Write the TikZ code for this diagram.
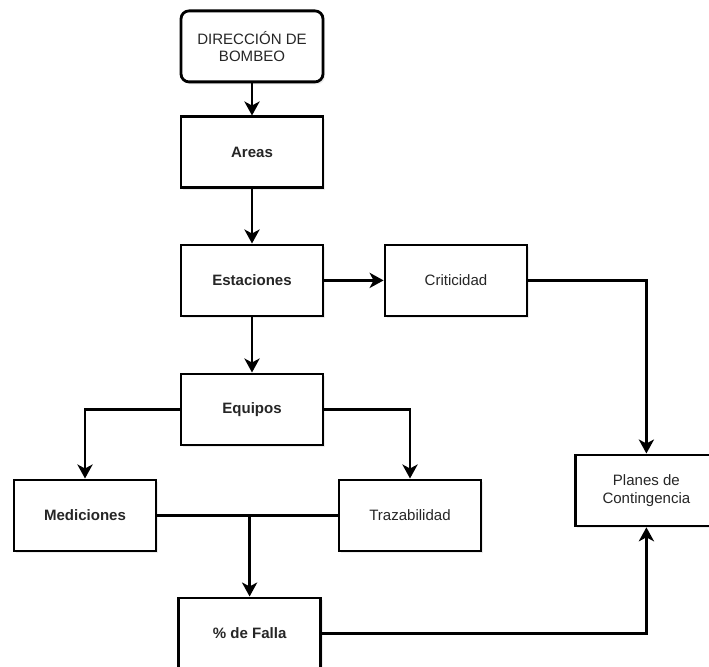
\documentclass[tikz,border=0pt]{standalone}
\usepackage{fontspec}
\setmainfont{Liberation Sans}
\usetikzlibrary{arrows.meta,shadows}

\begin{document}
\begin{tikzpicture}[
    every node/.style={align=center},
    head/.style={rectangle, rounded corners=0.2cm, draw=black, fill=white, line width=2pt, minimum width=3.55cm, minimum height=1.775cm, text=black!85, font=\fontsize{10.7}{12.5}\selectfont, drop shadow={opacity=0.15, shadow xshift=0.05cm, shadow yshift=-0.06cm}},
    unit/.style={rectangle, draw=black, fill=white, line width=2pt, minimum width=3.55cm, minimum height=1.775cm, text=black!85, font=\fontsize{10.7}{12.5}\selectfont\bfseries, drop shadow={opacity=0.15, shadow xshift=0.05cm, shadow yshift=-0.06cm}},
    side/.style={rectangle, draw=black, fill=white, line width=2pt, minimum width=3.55cm, minimum height=1.775cm, text=black!85, font=\fontsize{10.7}{12.5}\selectfont, drop shadow={opacity=0.15, shadow xshift=0.05cm, shadow yshift=-0.06cm}},
    link/.style={-{Stealth[length=0.35cm, width=0.38cm, inset=0.1cm]}, line width=2pt},
    line/.style={line width=2pt}
]
    \useasboundingbox (0,0) rectangle (17.725,-16.65);

    % Top node
    \node[head] (direccion) at (6.3,-1.16) {DIRECCIÓN DE\\BOMBEO};

    % Main column
    \node[unit] (areas) at ([yshift=-2.65cm]direccion) {Areas};
    \node[unit] (estaciones) at ([yshift=-3.2cm]areas) {Estaciones};
    \node[side] (criticidad) at ([xshift=5.1cm]estaciones) {Criticidad};
    \node[unit] (equipos) at ([yshift=-3.225cm]estaciones) {Equipos};

    % Equipment branches
    \node[unit] (mediciones) at ([xshift=-4.175cm, yshift=-2.65cm]equipos) {Mediciones};
    \node[side] (trazabilidad) at ([xshift=3.95cm, yshift=-2.65cm]equipos) {Trazabilidad};
    \node[unit] (falla) at ([xshift=-0.06cm, yshift=-5.6cm]equipos) {\% de Falla};

    % Result
    \node[side] (planes) at ([xshift=4.76cm, yshift=-5.25cm]criticidad) {Planes de\\Contingencia};

    % Connections
    \coordinate (union) at (mediciones.east -| falla.north);
    \draw[link] (direccion) -- (areas);
    \draw[link] (areas) -- (estaciones);
    \draw[link] (estaciones) -- (criticidad);
    \draw[link] (estaciones) -- (equipos);
    \draw[link] (equipos) -| (mediciones);
    \draw[link] (equipos) -| (trazabilidad);
    \draw[line] (mediciones) -- (trazabilidad);
    \draw[link] (union) -- (falla);
    \draw[link] (criticidad) -| (planes);
    \draw[link] (falla) -| (planes);
\end{tikzpicture}
\end{document}
